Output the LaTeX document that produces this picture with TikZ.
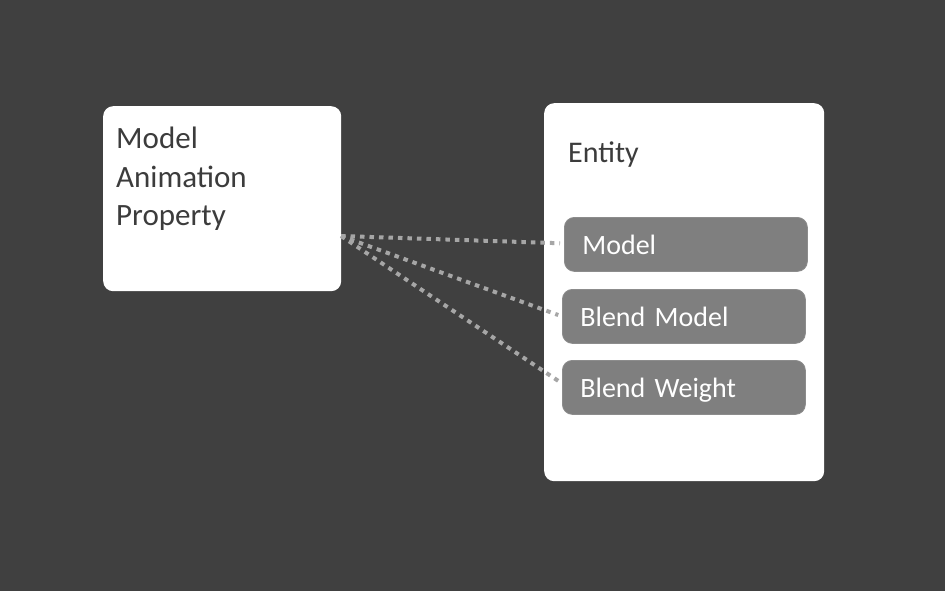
\documentclass[tikz,border=0pt]{standalone}
\usepackage{fontspec}
\setmainfont[WordSpace=0.8]{Carlito}
\definecolor{bg}{HTML}{404040}
\definecolor{ink}{HTML}{3C3C3C}
\definecolor{field}{HTML}{7F7F7F}
\definecolor{fieldedge}{HTML}{8C8C8C}
\definecolor{dots}{HTML}{A6A6A6}
\tikzset{
  whitebox/.style={fill=white, draw=none, rounded corners=10pt, anchor=north west, inner sep=0pt},
  fieldbox/.style={fill=field, draw=fieldedge, line width=0.8pt, rounded corners=10pt, anchor=north west,
    minimum width=243pt, minimum height=54pt, text width=207pt, inner xsep=18pt, inner ysep=0pt,
    align=left, text=white, font=\fontsize{28}{33}\selectfont, text height=21pt, text depth=0pt},
  plaintext/.style={inner sep=0pt, text=ink},
  link/.style={draw=dots, line width=4pt, dash pattern=on 4.5pt off 5pt, shorten >=4pt}
}
\begin{document}
\begin{tikzpicture}[x=1pt,y=1pt]
\fill[bg] (0,0) rectangle (945,-591);
\useasboundingbox (0,0) rectangle (945,-591);
% left box
\node[whitebox, minimum width=238pt, minimum height=185pt] (prop) at (103,-106) {};
\node[plaintext, anchor=north west, align=left, font=\fontsize{31}{38.5}\selectfont] (proptext) at (116,-127)
  {Model\\Animation\\Property};
% right box
\node[whitebox, minimum width=280pt, minimum height=378pt] (entity) at (544,-103) {};
\node[plaintext, anchor=base west, font=\fontsize{30}{34}\selectfont] (entitytext) at (568,-163) {Entity};
\node[fieldbox] (model) at (564,-217) {Model};
\node[fieldbox] (bmodel) at (562,-289) {Blend Model};
\node[fieldbox] (bweight) at (562,-360) {Blend Weight};
% connectors
\coordinate (src) at (341,-236);
\draw[link] (src) -- ([yshift=1pt]model.west);
\draw[link] (src) -- (bmodel.west);
\draw[link] (src) -- ([yshift=4pt]bweight.west);
\end{tikzpicture}
\end{document}
